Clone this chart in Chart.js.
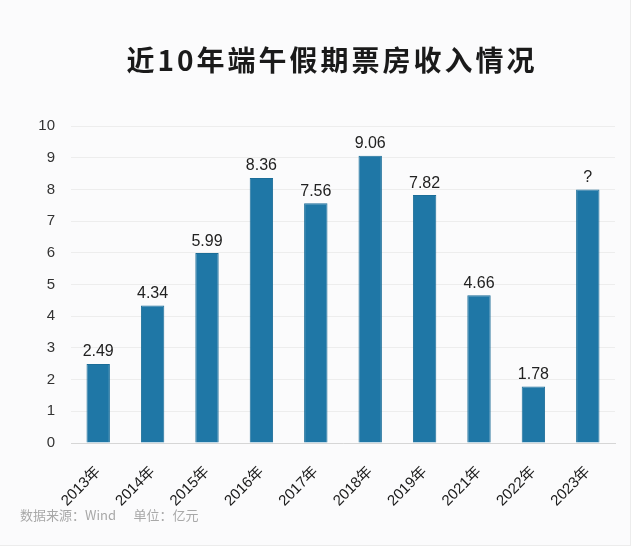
<!DOCTYPE html>
<html>
<head>
<meta charset="utf-8">
<script src="https://cdn.jsdelivr.net/npm/chart.js@4/dist/chart.umd.min.js"></script>
<style>
  html, body { margin: 0; padding: 0; background: #fff; }
  #card {
    position: relative; width: 630px; height: 545px;
    background: #fbfbfc; border-right: 1px solid #ececec; border-bottom: 1px solid #ececec;
  }
  #wrap { position: absolute; left: 0; top: 0; width: 640px; height: 552px; }
  #title {
    position: absolute; left: 0; top: 41px; width: 664px; text-align: center;
    font: bold 28px "Noto Sans CJK SC", sans-serif; color: #1a1a1a;
    letter-spacing: 3px; line-height: 36px;
  }
  #source {
    position: absolute; left: 20px; top: 505px;
    font: 13px "Noto Sans CJK SC", "Liberation Sans", sans-serif; color: #a8a8a8;
    white-space: pre;
  }
</style>
</head>
<body>
<div id="card"></div>
<div id="wrap"><canvas id="chart" width="640" height="552"></canvas></div>
<div id="title">近10年端午假期票房收入情况</div>
<div id="source">数据来源：Wind      单位：亿元</div>
<script>
// 近10年端午假期票房收入（亿元）
const years  = ['2013年','2014年','2015年','2016年','2017年','2018年','2019年','2021年','2022年','2023年'];
const values = [2.49, 4.34, 5.99, 8.36, 7.56, 9.06, 7.82, 4.66, 1.78, 8];
const labels = ['2.49','4.34','5.99','8.36','7.56','9.06','7.82','4.66','1.78','?'];
const yTicks = [0,1,2,3,4,5,6,7,8,9,10];

const barLabels = {
  id: 'barLabels',
  afterDatasetsDraw(chart) {
    const ctx = chart.ctx;
    const meta = chart.getDatasetMeta(0);
    ctx.save();
    ctx.font = '16px "Liberation Sans", Arial, sans-serif';
    ctx.fillStyle = '#222';
    ctx.textAlign = 'center';
    ctx.textBaseline = 'bottom';
    meta.data.forEach((bar, i) => {
      ctx.fillText(labels[i], bar.x, bar.y - 4);
    });
    ctx.restore();
  }
};

new Chart(document.getElementById('chart'), {
  type: 'bar',
  data: {
    labels: years,
    datasets: [{
      data: values,
      backgroundColor: '#1f77a6',
      borderColor: '#1b6d98',
      borderWidth: 1,
      barPercentage: 0.43,
      categoryPercentage: 1
    }]
  },
  options: {
    responsive: false,
    animation: false,
    layout: { padding: { left: 0, right: 25, bottom: 0, top: 126 } },
    plugins: {
      legend: { display: false },
      tooltip: { enabled: false },
      title: { display: false }
    },
    scales: {
      x: {
        grid: { display: false, drawTicks: false },
        border: { color: '#d6d6d6' },
        ticks: {
          minRotation: 45, maxRotation: 45,
          padding: 20,
          color: '#1a1a1a',
          font: { size: 15, family: '"Liberation Sans", "Noto Sans CJK SC", sans-serif' }
        },
        afterFit: axis => { axis.height = 109; }
      },
      y: {
        min: 0, max: 10,
        afterBuildTicks: axis => { axis.ticks = yTicks.map(v => ({ value: v })); },
        grid: { color: '#ededed', drawTicks: false },
        border: { display: false },
        ticks: {
          padding: 16,
          color: '#333',
          font: { size: 15, family: '"Liberation Sans", Arial, sans-serif' }
        },
        afterFit: axis => { axis.width = 71; }
      }
    }
  },
  plugins: [barLabels]
});
</script>
</body>
</html>
